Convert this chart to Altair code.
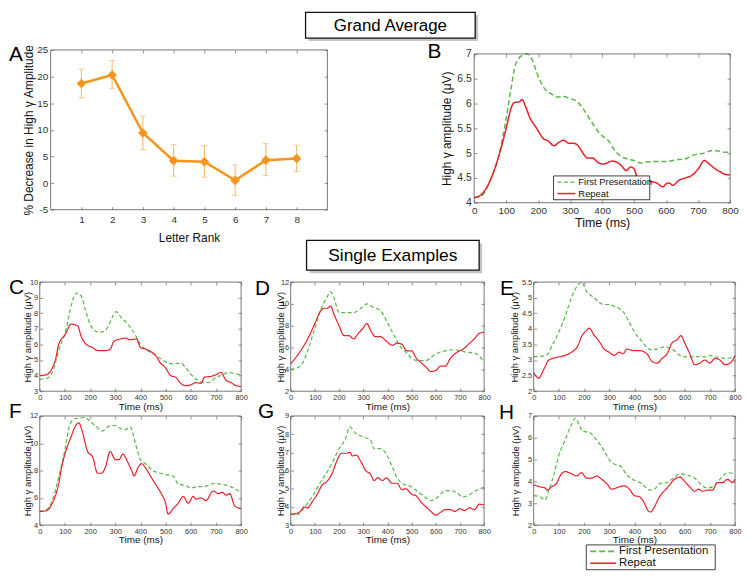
import altair as alt
import pandas as pd

FONT = "Liberation Sans"
GREEN = "#56b846"
RED = "#e8202a"
ORANGE = "#f7941d"
ORANGE_ERR = "#f5b461"
BOX = "#555555"
TICK = "#777777"
LABEL = "#333333"
SERIES = ["First Presentation", "Repeat"]
TK = 3
ONE = pd.DataFrame({"z": [0]})

# ---------------- Panel A data ----------------
rank = [1, 2, 3, 4, 5, 6, 7, 8]
decrease = [18.7, 20.3, 9.4, 4.2, 4.0, 0.5, 4.3, 4.6]
err_lo = [16.0, 17.8, 6.3, 1.3, 1.1, -2.3, 1.4, 2.2]
err_hi = [21.4, 23.0, 12.6, 7.2, 7.0, 3.4, 7.4, 7.1]
rank_ticks = [1, 2, 3, 4, 5, 6, 7, 8]
a_y_ticks = [-5, 0, 5, 10, 15, 20, 25]

# ---------------- Panel B data ----------------
b_first_t = [0, 25, 50, 75, 100, 115, 130, 150, 165, 180, 200, 220, 240, 260, 280, 300, 320, 340, 360, 380,
             400, 420, 440, 460, 480, 500, 520, 540, 560, 580, 600, 620, 640, 660, 680, 700, 720, 740, 760, 780, 800]
b_first_v = [4.1, 4.15, 4.45, 4.9, 5.7, 6.3, 6.8, 6.97, 7.0, 6.9, 6.55, 6.3, 6.2, 6.13, 6.14, 6.1, 6.05, 5.9, 5.7, 5.5,
             5.35, 5.25, 5.05, 4.93, 4.88, 4.85, 4.8, 4.82, 4.83, 4.83, 4.83, 4.85, 4.87, 4.88, 4.95, 4.98, 5.0, 5.05, 5.05, 5.02, 5.02]
b_rep_t = [0, 25, 50, 75, 100, 115, 125, 140, 150, 160, 175, 190, 200, 215, 230, 250, 265, 280, 295, 310,
           325, 340, 355, 370, 385, 400, 415, 430, 445, 460, 475, 490, 500, 510, 525, 550, 570, 590, 600, 610,
           620, 640, 660, 680, 700, 720, 735, 750, 770, 785, 800]
b_rep_v = [4.1, 4.18, 4.45, 4.9, 5.5, 5.9, 6.02, 6.03, 6.08, 5.95, 5.7, 5.55, 5.45, 5.3, 5.25, 5.15, 5.22, 5.26, 5.2, 5.2,
           5.15, 5.0, 4.9, 4.9, 4.82, 4.78, 4.8, 4.84, 4.82, 4.75, 4.65, 4.72, 4.68, 4.5, 4.45, 4.43, 4.4, 4.32, 4.38, 4.4,
           4.35, 4.45, 4.5, 4.55, 4.68, 4.85, 4.78, 4.7, 4.62, 4.57, 4.56]
b_y_ticks = [4, 4.5, 5, 5.5, 6, 6.5, 7]

# ---------------- Panel C data ----------------
c_first_t = [0, 25, 50, 75, 105, 125, 145, 165, 180, 200, 230, 250, 270, 290, 305, 320, 350, 380, 400, 420,
             450, 480, 510, 530, 560, 580, 600, 620, 640, 660, 680, 700, 720, 750, 780, 800]
c_first_v = [3.77, 3.8, 4.2, 5.6, 7.0, 8.5, 9.3, 9.1, 8.3, 7.3, 6.8, 6.8, 7.1, 7.8, 8.1, 7.8, 7.3, 6.6, 6.0, 5.7,
             5.4, 5.1, 4.8, 4.75, 4.8, 4.5, 4.1, 3.8, 3.6, 3.55, 3.6, 3.9, 4.0, 4.2, 4.1, 4.05]
c_rep_t = [0, 25, 50, 65, 75, 100, 125, 150, 165, 185, 210, 230, 260, 280, 295, 320, 340, 360, 385, 400,
           420, 440, 460, 480, 500, 520, 540, 560, 580, 600, 620, 640, 655, 680, 700, 720, 740, 760, 780, 800]
c_rep_v = [4.0, 4.05, 4.5, 5.2, 6.0, 6.6, 7.3, 7.2, 6.5, 6.0, 5.8, 5.6, 5.6, 5.7, 6.2, 6.35, 6.4, 6.3, 6.35, 5.8,
           5.7, 5.55, 5.3, 4.8, 4.5, 4.0, 3.9, 3.5, 3.35, 3.4, 3.55, 3.5, 3.9, 3.95, 4.05, 4.2, 3.7, 3.55, 3.35, 3.3]
c_y_ticks = [3, 4, 5, 6, 7, 8, 9, 10]

# ---------------- Panel D data ----------------
d_first_t = [0, 25, 50, 75, 100, 125, 150, 165, 180, 200, 230, 260, 290, 315, 340, 370, 400, 430, 450, 480,
             500, 530, 560, 580, 600, 640, 680, 700, 720, 760, 780, 800]
d_first_v = [4.0, 4.1, 4.6, 6.0, 7.8, 9.5, 10.6, 11.1, 10.5, 9.2, 9.2, 9.2, 9.6, 10.0, 9.7, 9.4, 8.3, 7.0, 6.2, 5.5,
             5.0, 4.8, 4.8, 5.1, 5.4, 5.7, 5.8, 5.7, 5.6, 5.5, 5.2, 4.7]
d_rep_t = [0, 25, 50, 75, 100, 125, 140, 150, 165, 180, 200, 220, 240, 260, 280, 300, 315, 330, 350, 370,
           400, 420, 440, 460, 480, 500, 520, 540, 560, 580, 600, 620, 640, 660, 690, 710, 740, 760, 780, 800]
d_rep_v = [4.5, 5.2, 6.0, 7.0, 8.2, 9.4, 9.6, 9.6, 9.8, 9.0, 8.0, 7.1, 7.1, 6.8, 7.3, 7.8, 8.2, 7.6, 7.0, 7.0,
           6.5, 6.2, 6.4, 6.3, 5.7, 5.7, 5.0, 4.6, 4.2, 3.8, 3.9, 4.3, 4.3, 5.0, 5.6, 5.8, 6.4, 6.8, 7.3, 7.4]
d_y_ticks = [2, 4, 6, 8, 10, 12]

# ---------------- Panel E data ----------------
e_first_t = [0, 50, 75, 100, 125, 150, 175, 190, 210, 240, 260, 280, 300, 320, 340, 360, 380, 400, 430, 450,
             470, 490, 520, 540, 560, 580, 600, 640, 660, 680, 700, 720, 740, 760, 780, 800]
e_first_v = [3.1, 3.15, 3.5, 3.9, 4.4, 5.0, 5.4, 5.5, 5.2, 5.0, 4.85, 4.78, 4.78, 4.72, 4.65, 4.5, 4.2, 3.9, 3.6, 3.4,
             3.32, 3.35, 3.42, 3.38, 3.3, 3.15, 3.1, 3.1, 3.12, 3.1, 3.15, 3.1, 3.08, 3.05, 3.07, 3.1]
e_rep_t = [0, 20, 40, 60, 100, 125, 150, 175, 190, 210, 220, 240, 260, 280, 300, 320, 340, 355, 370, 400,
           420, 450, 470, 490, 510, 530, 550, 570, 585, 600, 620, 640, 660, 680, 700, 720, 740, 760, 780, 800]
e_rep_v = [2.6, 2.42, 2.7, 3.0, 3.1, 3.15, 3.25, 3.45, 3.75, 3.95, 4.02, 3.8, 3.6, 3.35, 3.25, 3.15, 3.25, 3.2, 3.35, 3.3,
           3.3, 3.2, 2.95, 2.9, 3.05, 3.2, 3.55, 3.65, 3.78, 3.55, 3.2, 2.85, 2.9, 3.0, 2.9, 3.05, 3.0, 2.85, 2.9, 3.15]
e_y_ticks = [2, 2.5, 3, 3.5, 4, 4.5, 5, 5.5]

# ---------------- Panel F data ----------------
f_first_t = [0, 25, 50, 75, 100, 120, 140, 160, 180, 200, 220, 250, 270, 300, 320, 340, 360, 380, 400, 420,
             450, 480, 500, 530, 550, 580, 600, 620, 660, 690, 720, 760, 800]
f_first_v = [5.0, 5.1, 5.8, 7.5, 9.5, 11.4, 11.8, 11.85, 11.9, 11.6, 11.3, 10.9, 11.2, 11.3, 11.1, 11.0, 11.2, 10.0, 8.8, 8.5,
             8.0, 7.8, 7.7, 7.6, 7.0, 6.9, 6.7, 6.8, 6.85, 7.05, 7.0, 6.8, 6.4]
f_rep_t = [0, 25, 50, 75, 90, 100, 125, 140, 155, 170, 190, 210, 230, 245, 260, 280, 300, 315, 330, 350,
           365, 375, 390, 405, 420, 440, 460, 480, 500, 510, 530, 550, 570, 590, 610, 620, 640, 660, 690, 710,
           725, 740, 755, 775, 800]
f_rep_v = [5.0, 5.05, 5.6, 7.0, 8.5, 9.2, 10.5, 11.2, 11.5, 10.8, 9.4, 9.0, 7.8, 7.8, 8.2, 9.4, 8.8, 8.8, 9.2, 8.6,
           8.0, 7.6, 8.2, 8.5, 8.2, 7.6, 7.0, 6.4, 5.6, 4.8, 5.2, 5.6, 6.1, 5.6, 6.1, 5.9, 6.0, 5.8, 6.5, 6.3,
           6.4, 6.2, 6.3, 5.4, 5.2]
f_y_ticks = [4, 6, 8, 10, 12]

# ---------------- Panel G data ----------------
g_first_t = [0, 25, 50, 75, 100, 125, 150, 175, 200, 225, 245, 265, 290, 310, 330, 345, 370, 400, 420, 440,
             460, 500, 530, 560, 580, 600, 620, 640, 670, 690, 710, 730, 760, 800]
g_first_v = [3.6, 3.55, 3.85, 4.3, 4.8, 5.4, 5.9, 6.5, 7.2, 7.7, 8.4, 8.1, 7.9, 7.8, 7.7, 7.2, 7.2, 6.8, 6.2, 5.6,
             5.3, 5.1, 4.8, 4.5, 4.35, 4.45, 4.7, 4.9, 4.88, 4.75, 4.55, 4.6, 4.85, 5.1]
g_rep_t = [0, 25, 40, 55, 70, 90, 110, 130, 150, 170, 190, 210, 230, 245, 255, 270, 290, 310, 330, 345,
           360, 380, 395, 420, 440, 460, 475, 500, 520, 540, 560, 580, 600, 620, 640, 660, 680, 700, 720, 740,
           760, 780, 800]
g_rep_v = [3.6, 3.65, 3.75, 4.0, 3.95, 4.3, 4.7, 5.2, 5.4, 5.8, 6.5, 6.95, 6.95, 7.0, 6.8, 6.85, 6.5, 6.0, 5.8, 5.45,
           5.6, 5.45, 5.6, 5.3, 5.3, 4.95, 5.0, 4.7, 4.6, 4.25, 4.0, 3.75, 3.55, 3.7, 3.85, 3.85, 3.75, 3.9, 3.8, 3.95,
           3.85, 4.15, 4.1]
g_y_ticks = [3, 4, 5, 6, 7, 8, 9]

# ---------------- Panel H data ----------------
h_first_t = [0, 25, 45, 60, 80, 100, 125, 150, 165, 180, 195, 220, 250, 280, 300, 320, 345, 370, 400, 430,
             460, 480, 500, 530, 560, 580, 610, 640, 670, 690, 710, 740, 770, 800]
h_first_v = [3.35, 3.3, 3.15, 3.6, 4.3, 5.2, 5.9, 6.6, 6.9, 6.6, 6.3, 6.25, 5.9, 5.4, 5.0, 4.8, 4.7, 4.3, 4.05, 3.9,
             3.6, 3.65, 3.9, 3.95, 4.2, 4.35, 4.3, 4.15, 3.8, 3.7, 3.75, 4.1, 4.4, 4.35]
h_rep_t = [0, 25, 45, 55, 70, 90, 110, 125, 150, 170, 190, 210, 230, 250, 270, 290, 310, 340, 360, 380,
           400, 420, 440, 455, 465, 480, 500, 530, 560, 580, 600, 620, 640, 655, 670, 690, 710, 730, 750, 770,
           790, 800]
h_rep_v = [3.85, 3.75, 3.7, 3.6, 3.75, 3.9, 4.35, 4.45, 4.35, 4.25, 4.4, 4.15, 4.15, 4.25, 4.1, 3.9, 3.65, 3.75, 3.8, 3.65,
           3.35, 3.3, 3.0, 2.65, 2.6, 2.85, 3.3, 3.7, 4.1, 4.2, 4.0, 3.75, 3.55, 3.65, 3.55, 3.6, 3.6, 3.95, 3.95, 4.1,
           3.95, 4.1]
h_y_ticks = [2, 3, 4, 5, 6, 7]

time_ticks = [0, 100, 200, 300, 400, 500, 600, 700, 800]


# ---------------- helpers ----------------
# box = (x0, x1, y0, y1): the framed plot area, in pixels of a view of size W x H
def x_bottom(vals, title, box, H, st):
    x0, x1, y0, y1 = box
    return alt.Axis(orient="bottom", values=vals, offset=-(H - y1) - TK, tickSize=TK, tickWidth=0.8,
                    tickColor=TICK, domain=False, grid=False, labelFontSize=st["xl"], labelPadding=st["xlp"],
                    labelColor=LABEL, labelFlush=False, labelOverlap=False, labelExpr="datum.value + ''",
                    labelFont=FONT, title=title, titleFont=FONT, titleFontSize=st["xt"],
                    titleFontWeight="normal", titleColor="#111111", titleX=(x0 + x1) / 2,
                    titleY=st["xty"] + TK, titleAlign="center", titleBaseline="middle")


def y_left(vals, title, box, st):
    x0, x1, y0, y1 = box
    return alt.Axis(orient="left", values=vals, offset=-(x0 + TK), tickSize=TK, tickWidth=0.8,
                    tickColor=TICK, domain=False, grid=False, labelFontSize=st["yl"], labelPadding=st["ylp"],
                    labelColor=LABEL, labelFlush=False, labelOverlap=False, labelExpr="datum.value + ''",
                    labelFont=FONT, title=title, titleFont=FONT, titleFontSize=st["yt"],
                    titleFontWeight="normal", titleColor="#111111", titleX=st["ytx"] - TK,
                    titleY=(y0 + y1) / 2, titleAngle=270, titleAlign="center", titleBaseline="middle")


def tick_frame(df, xf, yf, xs, ys, xvals, yvals, box, W):
    x0, x1, y0, y1 = box
    return alt.Chart(df).mark_point(opacity=0).encode(
        x=alt.X(xf, type="quantitative", scale=xs,
                axis=alt.Axis(orient="top", values=xvals, offset=-(y0 + TK), tickSize=TK, tickWidth=0.8,
                              tickColor=TICK, domain=False, grid=False, labels=False, title=None)),
        y=alt.Y(yf, type="quantitative", scale=ys,
                axis=alt.Axis(orient="right", values=yvals, offset=-(W - x1) - TK, tickSize=TK,
                              tickWidth=0.8, tickColor=TICK, domain=False, grid=False, labels=False,
                              title=None)),
    )


def frame_rect(box):
    x0, x1, y0, y1 = box
    return alt.Chart(ONE).mark_rect(fillOpacity=0, stroke=BOX, strokeWidth=0.8).encode(
        x=alt.value(x0), x2=alt.value(x1), y=alt.value(y0), y2=alt.value(y1))


def letter(txt, x, y, size=21):
    return alt.Chart(ONE).mark_text(text=txt, fontSize=size, font=FONT, align="left",
                                    baseline="alphabetic", color="black").encode(
        x=alt.value(x), y=alt.value(y))


def title_box(txt, x1, x2, y1, y2, size):
    shadow = alt.Chart(ONE).mark_rect(fill="#8c8c8c", opacity=0.5).encode(
        x=alt.value(x1 + 3), x2=alt.value(x2 + 3), y=alt.value(y1 + 3), y2=alt.value(y2 + 3))
    box = alt.Chart(ONE).mark_rect(fill="white", stroke="#111111", strokeWidth=1.3).encode(
        x=alt.value(x1), x2=alt.value(x2), y=alt.value(y1), y2=alt.value(y2))
    text = alt.Chart(ONE).mark_text(text=txt, fontSize=size, font=FONT, align="center",
                                    baseline="middle", color="black").encode(
        x=alt.value((x1 + x2) / 2), y=alt.value((y1 + y2) / 2 + 1))
    return [shadow, box, text]


def legend_layers(x1, x2, y1, y2, sym, fs, dash, sw):
    r1 = y1 + (y2 - y1) * 0.26
    r2 = y1 + (y2 - y1) * 0.74
    sx1 = x1 + 4
    sx2 = sx1 + sym
    box = alt.Chart(ONE).mark_rect(fill="white", stroke="#111111", strokeWidth=0.8).encode(
        x=alt.value(x1), x2=alt.value(x2), y=alt.value(y1), y2=alt.value(y2))
    g = alt.Chart(ONE).mark_rule(color=GREEN, strokeWidth=sw, strokeDash=dash).encode(
        x=alt.value(sx1), x2=alt.value(sx2), y=alt.value(r1))
    r = alt.Chart(ONE).mark_rule(color=RED, strokeWidth=sw).encode(
        x=alt.value(sx1), x2=alt.value(sx2), y=alt.value(r2))
    t1 = alt.Chart(ONE).mark_text(text=SERIES[0], fontSize=fs, font=FONT, align="left",
                                  baseline="middle", color="#111111").encode(
        x=alt.value(sx2 + 3), y=alt.value(r1))
    t2 = alt.Chart(ONE).mark_text(text=SERIES[1], fontSize=fs, font=FONT, align="left",
                                  baseline="middle", color="#111111").encode(
        x=alt.value(sx2 + 3), y=alt.value(r2))
    return [box, g, r, t1, t2]


def line_panel(ft, fv, rt, rv, W, H, box, ydom, yvals, st, let, extra=()):
    x0, x1, y0, y1 = box
    df = pd.concat([pd.DataFrame({"t": ft, "v": fv, "s": SERIES[0]}),
                    pd.DataFrame({"t": rt, "v": rv, "s": SERIES[1]})], ignore_index=True)
    xs = alt.Scale(domain=[0, 800], range=[x0, x1], nice=False, zero=False)
    ys = alt.Scale(domain=ydom, range=[y1, y0], nice=False, zero=False)
    main = alt.Chart(df).mark_line(strokeWidth=st["lw"], interpolate="monotone").encode(
        x=alt.X("t:Q", scale=xs, axis=x_bottom(time_ticks, "Time (ms)", box, H, st)),
        y=alt.Y("v:Q", scale=ys, axis=y_left(yvals, "High γ amplitude (μV)", box, st)),
        color=alt.Color("s:N", scale=alt.Scale(domain=SERIES, range=[GREEN, RED]), legend=None),
        strokeDash=alt.StrokeDash("s:N", scale=alt.Scale(domain=SERIES, range=[st["dash"], [1, 0]]),
                                  legend=None),
    )
    layers = [main, tick_frame(df, "t", "v", xs, ys, time_ticks, yvals, box, W), frame_rect(box),
              letter(let[0], let[1], let[2])]
    layers += list(extra)
    return alt.layer(*layers).resolve_axis(x="independent", y="independent").properties(width=W, height=H)


W1, W2, HS = 203, 195, 110

# ---------------- Panel A (column 1, view at page x 39) ----------------
boxA = (11, 290, 0, 161)
stA = dict(xl=10, xlp=5, xt=12, xty=28, yl=10, ylp=3, yt=12, ytx=-22)
dfA = pd.DataFrame({"r": rank, "d": decrease, "lo": err_lo, "hi": err_hi})
xsA = alt.Scale(domain=[0, 9], range=[boxA[0], boxA[1]], nice=False, zero=False)
ysA = alt.Scale(domain=[-5, 25], range=[boxA[3], boxA[2]], nice=False, zero=False)
a_err = alt.Chart(dfA).mark_rule(color=ORANGE_ERR, strokeWidth=1).encode(
    x=alt.X("r:Q", scale=xsA, axis=None), y=alt.Y("lo:Q", scale=ysA, axis=None), y2="hi:Q")
a_cap_lo = alt.Chart(dfA).mark_tick(orient="horizontal", size=6, thickness=1, color=ORANGE_ERR).encode(
    x=alt.X("r:Q", scale=xsA, axis=None), y=alt.Y("lo:Q", scale=ysA, axis=None))
a_cap_hi = alt.Chart(dfA).mark_tick(orient="horizontal", size=6, thickness=1, color=ORANGE_ERR).encode(
    x=alt.X("r:Q", scale=xsA, axis=None), y=alt.Y("hi:Q", scale=ysA, axis=None))
a_line = alt.Chart(dfA).mark_line(color=ORANGE, strokeWidth=2.5).encode(
    x=alt.X("r:Q", scale=xsA, axis=x_bottom(rank_ticks, "Letter Rank", boxA, 161, stA)),
    y=alt.Y("d:Q", scale=ysA, axis=y_left(a_y_ticks, "% Decrease in High γ Amplitude", boxA, stA)))
a_pts = alt.Chart(dfA).mark_point(shape="diamond", filled=True, size=95, color=ORANGE, opacity=1).encode(
    x=alt.X("r:Q", scale=xsA, axis=None), y=alt.Y("d:Q", scale=ysA, axis=None))
panelA = alt.layer(a_err, a_cap_lo, a_cap_hi, a_line, a_pts,
                   tick_frame(dfA, "r", "d", xsA, ysA, rank_ticks, a_y_ticks, boxA, W1),
                   frame_rect(boxA),
                   letter("A", -31, 11)).resolve_axis(x="independent", y="independent").properties(
    width=W1, height=161)

# ---------------- Panel B (column 2, view at page x 292) ----------------
stB = dict(xl=10, xlp=3, xt=12.5, xty=20, yl=10.5, ylp=3, yt=12, ytx=-28, lw=1.5, dash=[5, 3])
panelB = line_panel(b_first_t, b_first_v, b_rep_t, b_rep_v, W2, 154, (185, 443, 4, 154), [4, 7], b_y_ticks,
                    stB, ("B", 138, 8),
                    extra=title_box("Grand Average", 15, 186, -38, -12, 17)
                    + legend_layers(265, 362, 127, 151, 18, 9.5, [4, 2.5], 1.5))


# ---------------- Single examples ----------------
def small_st(ytx):
    return dict(xl=7.5, xlp=2, xt=10, xty=15, yl=7.5, ylp=2, yt=9.5, ytx=ytx, lw=1.2, dash=[4, 2.5])


box1 = (0, W1, 0, HS)
box2 = (0, W2, 0, HS)
panelC = line_panel(c_first_t, c_first_v, c_rep_t, c_rep_v, W1, HS, box1, [3, 10], c_y_ticks, small_st(-12),
                    ("C", -31, 12))
panelD = line_panel(d_first_t, d_first_v, d_rep_t, d_rep_v, W2, HS, box2, [2, 12], d_y_ticks, small_st(-10),
                    ("D", -36, 13), extra=title_box("Single Examples", 16, 190, -42, -12, 17.5))
panelE = line_panel(e_first_t, e_first_v, e_rep_t, e_rep_v, W1, HS, box1, [2, 5.5], e_y_ticks, small_st(-19),
                    ("E", -34, 13))
panelF = line_panel(f_first_t, f_first_v, f_rep_t, f_rep_v, W1, HS, box1, [4, 12], f_y_ticks, small_st(-12),
                    ("F", -31, 2))
panelG = line_panel(g_first_t, g_first_v, g_rep_t, g_rep_v, W2, HS, box2, [3, 9], g_y_ticks, small_st(-10),
                    ("G", -33, 2))
panelH = line_panel(h_first_t, h_first_v, h_rep_t, h_rep_v, W1, HS, box1, [2, 7], h_y_ticks, small_st(-18),
                    ("H", -35, 3), extra=legend_layers(53, 183, 130, 155, 26, 11.5, [6, 3], 1.6))

spacer = alt.Chart(ONE).mark_point(opacity=0).encode(x=alt.value(0), y=alt.value(0)).properties(
    width=1, height=209)

chart = alt.concat(
    panelA, panelB, spacer,
    panelC, panelD, panelE,
    panelF, panelG, panelH,
    columns=3, bounds="flush", align="each",
    spacing=alt.RowColnumber(row=25, column=50),
).resolve_scale(color="independent", strokeDash="independent").properties(
    padding=0, background="white"
).configure(font=FONT).configure_view(stroke="transparent")

chart.save("out.html", embed_options={"renderer": "svg", "actions": False})
